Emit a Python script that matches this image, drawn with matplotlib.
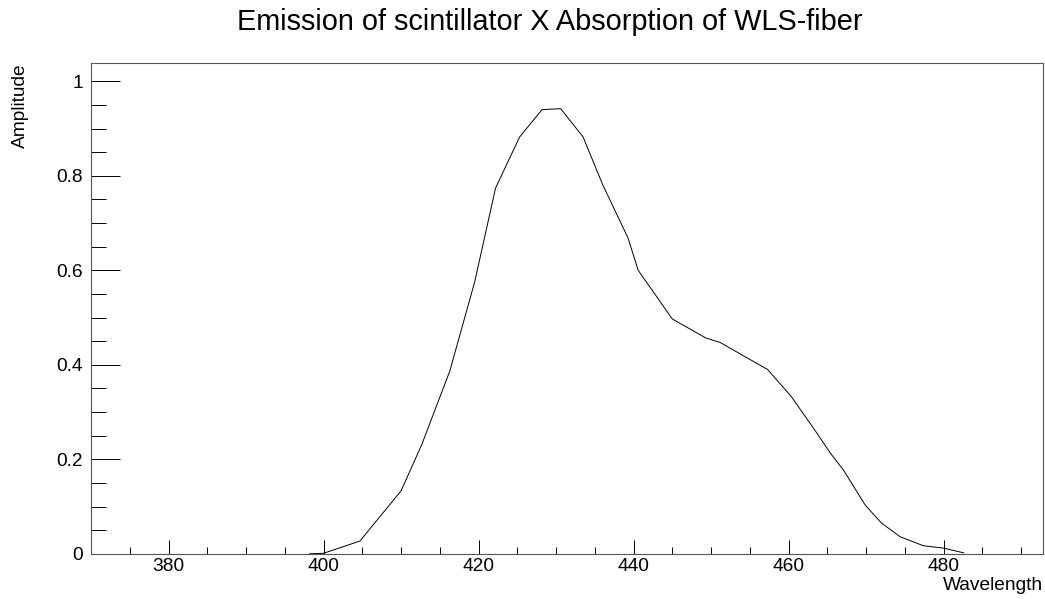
import numpy as np
import matplotlib
matplotlib.use('Agg')
import matplotlib.pyplot as plt
from matplotlib.ticker import MultipleLocator, FuncFormatter

plt.rcParams['font.family'] = ['Liberation Sans', 'DejaVu Sans']

# emission x absorption curve
wavelength = [398.2, 400.0, 404.7, 410.0, 412.7, 416.3, 419.5, 422.2, 425.3, 428.2,
              430.6, 433.5, 436.0, 439.3, 440.6, 445.0, 449.3, 451.2, 457.3, 460.3,
              463.3, 465.4, 467.1, 469.9, 472.0, 474.4, 477.4, 480.0, 482.6]
amplitude = [0.0, 0.001, 0.027, 0.133, 0.232, 0.387, 0.575, 0.774, 0.882, 0.940,
             0.942, 0.882, 0.782, 0.668, 0.600, 0.497, 0.457, 0.447, 0.390, 0.334,
             0.264, 0.213, 0.177, 0.103, 0.065, 0.036, 0.017, 0.012, 0.002]

title = 'Emission of scintillator X Absorption of WLS-fiber'
fs = 13.8

fig = plt.figure(figsize=(10.45, 5.99), dpi=100)
ax = fig.add_axes([0.0871, 0.0755, 0.9107, 0.8188])

ax.plot(wavelength, amplitude, '-', color='black', lw=0.7)

ax.set_xlim(370, 492.8)
ax.set_ylim(0, 1.038)

ax.xaxis.set_major_locator(MultipleLocator(20))
ax.xaxis.set_minor_locator(MultipleLocator(5))
ax.yaxis.set_major_locator(MultipleLocator(0.2))
ax.yaxis.set_minor_locator(MultipleLocator(0.05))
ax.yaxis.set_major_formatter(FuncFormatter(lambda v, p: '%g' % round(v, 3)))

ax.tick_params(axis='x', which='major', direction='in', length=10, width=0.7, labelsize=fs, pad=3.4)
ax.tick_params(axis='x', which='minor', direction='in', length=5, width=0.7)
ax.tick_params(axis='y', which='major', direction='in', length=21, width=0.7, labelsize=fs, pad=5.8)
ax.tick_params(axis='y', which='minor', direction='in', length=10.8, width=0.7)
for s in ax.spines.values():
    s.set_linewidth(0.8)
    s.set_color('#555555')

ax.set_xlabel('Wavelength', fontsize=fs, loc='right')
ax.xaxis.set_label_coords(1.0, -0.047)
ax.set_ylabel('Amplitude', fontsize=fs, loc='top')
ax.yaxis.set_label_coords(-0.0655, 1.0)

fig.text(0.526, 0.950, title, fontsize=20.8, ha='center', va='baseline')

fig.savefig('out.png', dpi=100)
